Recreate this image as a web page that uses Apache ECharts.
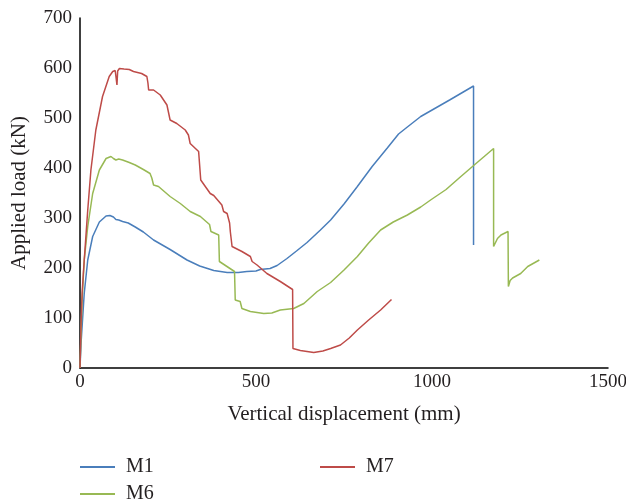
<!DOCTYPE html>
<html>
<head>
<meta charset="utf-8">
<script src="https://cdn.jsdelivr.net/npm/echarts@6/dist/echarts.min.js"></script>
<style>
  html, body { margin: 0; padding: 0; background: #fff; }
  #chart { width: 626px; height: 502px; }
</style>
</head>
<body>
<div id="chart"></div>
<script>
// Load–displacement curves: [vertical displacement (mm), applied load (kN)]
const m1 = [[0,0],[3,50],[6,83],[12,149],[22,216],[36,263],[55,292],[74,304],[85,305],[95,302],[102,297],[110,296],[121,293],[137,290],[157,282],[180,272],[209,256],[256,237],[304,216],[340,204],[380,195],[418,191],[450,191],[474,193],[500,194],[512,197],[540,199],[560,205],[588,219],[615,234],[645,251],[683,276],[712,296],[750,328],[788,363],[830,403],[873,440],[905,468],[930,482],[968,503],[1050,536],[1118,564],[1118,246]];

const m6 = [[0,0],[3,70],[6,136],[12,216],[22,283],[36,349],[55,396],[74,419],[88,423],[95,419],[102,416],[110,418],[121,416],[140,411],[157,406],[180,397],[199,389],[204,380],[209,366],[223,363],[256,343],[285,329],[313,313],[342,303],[368,287],[372,273],[394,266],[396,213],[439,193],[441,136],[455,133],[460,119],[484,113],[522,109],[545,110],[569,116],[607,119],[636,129],[674,153],[712,171],[750,196],[788,223],[820,250],[854,276],[890,292],[930,306],[968,322],[996,336],[1040,357],[1082,383],[1120,406],[1150,424],[1175,439],[1175,243],[1186,259],[1196,266],[1216,273],[1217,163],[1222,175],[1229,180],[1252,189],[1272,203],[1305,216]];

const m7 = [[0,0],[3,90],[6,150],[9.5,189],[12,215],[22,316],[31,396],[45,476],[64,543],[83,583],[93,593],[100,595],[104,592],[105,566],[107,594],[112,599],[125,598],[140,597],[152,593],[175,589],[190,583],[193,570],[195,556],[209,556],[228,546],[247,526],[256,496],[275,489],[299,476],[308,466],[313,449],[337,433],[342,433],[343,376],[370,349],[380,345],[403,326],[408,313],[418,309],[422,306],[425,290],[427,273],[432,273],[432,243],[460,233],[484,223],[489,213],[503,206],[531,189],[569,173],[604,157],[605,39],[626,35],[664,31],[690,34],[712,39],[740,46],[765,60],[788,76],[820,96],[854,116],[885,137]];

const seriesNames = ['M1', 'M6', 'M7'];
const xTicks = { min: 0, max: 1500, interval: 500 };
const yTicks = { min: 0, max: 700, interval: 100 };

const colors = { M1: '#4a7ebb', M6: '#98b954', M7: '#be4b48' };
const font = '"Liberation Serif", "DejaVu Serif", serif';
const textColor = '#231f20';

const chart = echarts.init(document.getElementById('chart'), null, { renderer: 'canvas' });

function legendFor(name, left, top) {
  return {
    data: [name], left: left, top: top,
    icon: 'rect', itemWidth: 35, itemHeight: 2,
    textStyle: { fontFamily: font, fontSize: 20, color: textColor, padding: [0, 0, 0, 6] },
    selectedMode: false
  };
}

chart.setOption({
  animation: false,
  backgroundColor: '#fff',
  grid: { left: 80, right: 18, top: 18, bottom: 134, containLabel: false, outerBoundsMode: 'none' },
  legend: [
    legendFor('M1', 75, 452),
    legendFor('M7', 315, 452),
    legendFor('M6', 75, 479)
  ],
  xAxis: {
    type: 'value', min: xTicks.min, max: xTicks.max, interval: xTicks.interval,
    name: 'Vertical displacement (mm)', nameLocation: 'middle', nameGap: 36,
    nameTextStyle: { fontFamily: font, fontSize: 21, color: textColor },
    axisLine: { show: true, lineStyle: { color: '#000', width: 1.5 } },
    axisTick: { show: false },
    splitLine: { show: false },
    axisLabel: { fontFamily: font, fontSize: 19, color: textColor, margin: 5,
      formatter: v => String(v) }
  },
  yAxis: {
    type: 'value', min: yTicks.min, max: yTicks.max, interval: yTicks.interval,
    name: 'Applied load (kN)', nameLocation: 'middle', nameGap: 50, nameRotate: 90,
    nameTextStyle: { fontFamily: font, fontSize: 21, color: textColor },
    axisLine: { show: true, lineStyle: { color: '#000', width: 1.5 } },
    axisTick: { show: false },
    splitLine: { show: false },
    axisLabel: { fontFamily: font, fontSize: 19, color: textColor, margin: 8,
      formatter: v => String(v) }
  },
  series: [
    { name: 'M1', type: 'line', data: m1, showSymbol: false, symbol: 'none',
      lineStyle: { color: colors.M1, width: 1.5 }, itemStyle: { color: colors.M1 } },
    { name: 'M6', type: 'line', data: m6, showSymbol: false, symbol: 'none',
      lineStyle: { color: colors.M6, width: 1.5 }, itemStyle: { color: colors.M6 } },
    { name: 'M7', type: 'line', data: m7, showSymbol: false, symbol: 'none',
      lineStyle: { color: colors.M7, width: 1.5 }, itemStyle: { color: colors.M7 } }
  ]
});
</script>
</body>
</html>
